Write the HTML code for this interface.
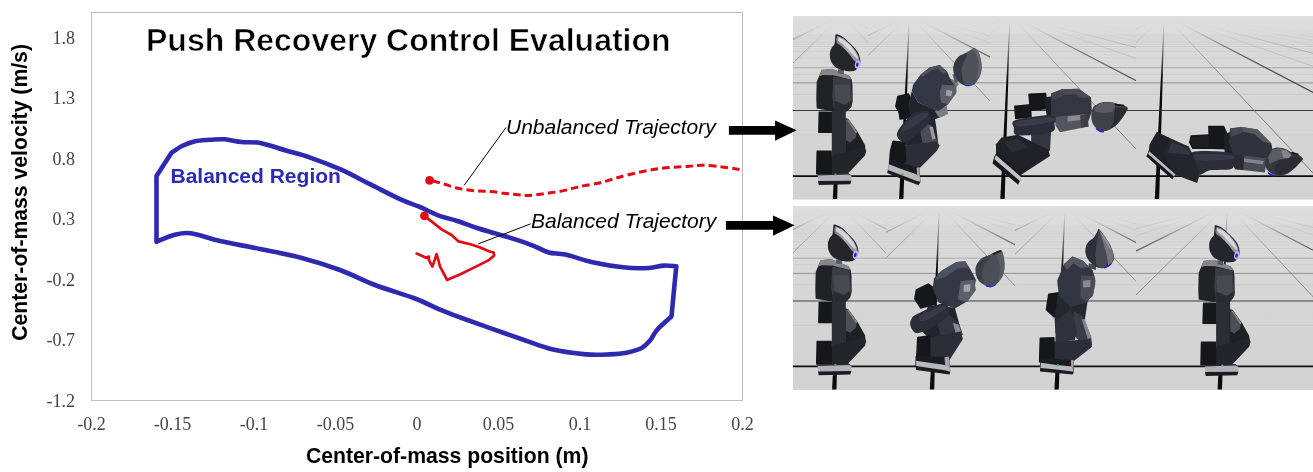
<!DOCTYPE html>
<html><head><meta charset="utf-8"><title>Push Recovery Control Evaluation</title>
<style>
html,body{margin:0;padding:0;background:#fff;}
svg{display:block;}
.sans{font-family:"Liberation Sans",Arial,sans-serif;}
.serif{font-family:"Liberation Serif","Times New Roman",serif;}
</style></head>
<body>
<svg width="1313" height="472" viewBox="0 0 1313 472">
<rect width="1313" height="472" fill="#fff"/>
<!-- plot frame -->
<rect x="91.5" y="12.5" width="651" height="388" fill="none" stroke="#bdbdbd" stroke-width="1"/>
<!-- title -->
<text class="sans" x="146" y="50.5" font-size="32" font-weight="bold" fill="#000" stroke="#fff" stroke-width="0.6">Push Recovery Control Evaluation</text>
<!-- y ticks -->
<g class="serif" font-size="18" fill="#444" text-anchor="end">
<text x="75" y="44.2">1.8</text>
<text x="75" y="104.2">1.3</text>
<text x="75" y="165.2">0.8</text>
<text x="75" y="225.2">0.3</text>
<text x="75" y="286.2">-0.2</text>
<text x="75" y="346.2">-0.7</text>
<text x="75" y="407.2">-1.2</text>
</g>
<g class="serif" font-size="18" fill="#444" text-anchor="middle">
<text x="91.5" y="429.6">-0.2</text>
<text x="172.5" y="429.6">-0.15</text>
<text x="254" y="429.6">-0.1</text>
<text x="335.5" y="429.6">-0.05</text>
<text x="417" y="429.6">0</text>
<text x="498.5" y="429.6">0.05</text>
<text x="580" y="429.6">0.1</text>
<text x="661" y="429.6">0.15</text>
<text x="742.5" y="429.6">0.2</text>
</g>
<text class="sans" x="447.2" y="463" font-size="21.2" font-weight="bold" text-anchor="middle" fill="#000">Center-of-mass position (m)</text>
<text class="sans" transform="translate(26.5,192.4) rotate(-90)" font-size="21.2" font-weight="bold" text-anchor="middle" fill="#000">Center-of-mass velocity (m/s)</text>
<!-- blue region -->
<path id="blue" fill="none" stroke="#2d2ab0" stroke-width="4.6" stroke-linejoin="round" stroke-linecap="round"
 d="M156.5,241.8 L156.5,176 L171.7,152.6 C173.4,151.5 178.2,147.9 182.0,146.0 C185.8,144.1 189.5,142.4 194.2,141.4 C198.9,140.4 204.9,140.2 210.0,139.8 C215.1,139.5 219.4,138.9 224.7,139.3 C230.0,139.7 235.8,141.4 241.7,142.0 C247.6,142.6 253.0,141.6 260.3,143.0 C267.7,144.4 277.6,148.1 285.8,150.5 C294.0,152.9 300.5,154.2 309.5,157.3 C318.5,160.4 329.8,164.7 340.0,169.2 C350.2,173.7 360.5,179.4 370.5,184.4 C380.5,189.4 391.9,195.4 400.0,199.1 C408.1,202.8 412.8,204.0 419.1,206.7 C425.5,209.4 431.8,212.9 438.1,215.3 C444.5,217.7 450.8,218.9 457.2,221.0 C463.6,223.1 469.9,225.6 476.3,227.7 C482.7,229.8 489.0,231.5 495.3,233.4 C501.6,235.3 508.0,237.0 514.4,239.1 C520.8,241.2 527.8,243.6 533.5,245.8 C539.2,248.0 543.4,251.0 548.7,252.5 C554.0,254.0 558.1,253.0 565.4,254.6 C572.7,256.2 582.9,260.1 592.5,262.2 C602.1,264.3 613.7,266.3 623.0,267.3 C632.3,268.3 641.7,268.3 648.5,268.0 C655.3,267.7 659.1,265.9 663.7,265.6 C668.3,265.3 674.2,266.2 676.3,266.3 C675.9,270.4 674.7,282.6 673.9,291.0 C673.1,299.4 671.9,312.2 671.5,316.4 C669.1,318.7 660.5,326.0 657.0,330.0 C653.5,334.0 652.8,337.2 650.2,340.2 C647.7,343.2 645.7,345.9 641.7,348.0 C637.7,350.1 631.8,351.6 626.4,352.7 C621.0,353.8 616.3,354.1 609.5,354.4 C602.7,354.7 595.4,355.2 585.8,354.4 C576.2,353.5 562.1,351.7 551.9,349.3 C541.7,346.9 534.9,343.7 524.7,340.2 C514.5,336.7 501.5,332.1 490.8,328.3 C480.1,324.5 468.8,320.6 460.3,317.5 C451.8,314.4 447.6,312.9 440.0,309.7 C432.4,306.5 425.8,302.6 415.0,298.5 C404.2,294.4 387.5,289.8 375.0,285.0 C362.5,280.2 352.5,274.6 340.0,270.0 C327.5,265.4 313.3,261.0 300.0,257.5 C286.7,254.0 273.3,251.8 260.0,249.0 C246.7,246.2 231.5,243.6 220.0,241.0 C208.5,238.4 198.5,234.3 190.8,233.3 C183.1,232.3 179.6,233.6 173.9,235.0 C168.2,236.4 159.4,240.7 156.5,241.8"/>
<text class="sans" x="170.5" y="183" font-size="21" font-weight="bold" fill="#2d2ab0">Balanced Region</text>
<!-- red trajectories -->
<path fill="none" stroke="#e00b14" stroke-width="3" stroke-dasharray="7.6 4.1" stroke-dashoffset="-3" d="M429.6,180.4 C430.5,180.6 432.6,180.8 435.1,181.5 C437.6,182.2 441.3,183.3 444.7,184.3 C448.1,185.3 452.0,186.8 455.6,187.7 C459.2,188.6 462.7,189.2 466.6,189.8 C470.5,190.4 474.9,190.8 479.0,191.1 C483.1,191.4 487.2,191.2 491.3,191.6 C495.4,191.9 499.5,192.7 503.6,193.2 C507.7,193.7 512.1,194.2 516.0,194.6 C519.9,195.0 523.2,195.5 526.9,195.5 C530.5,195.5 534.0,195.0 537.9,194.6 C541.8,194.2 546.1,193.4 550.2,192.8 C554.3,192.2 558.7,191.7 562.6,190.9 C566.5,190.1 569.9,189.0 573.5,188.1 C577.1,187.2 580.4,186.4 584.5,185.6 C588.6,184.8 594.3,184.1 598.2,183.3 C602.1,182.5 602.7,182.0 607.7,180.6 C612.8,179.2 620.1,176.7 628.5,174.7 C636.9,172.7 648.3,170.2 658.2,168.8 C668.1,167.4 680.4,167.0 687.8,166.4 C695.2,165.8 697.3,165.1 702.7,165.2 C708.1,165.2 715.0,166.1 720.4,166.7 C725.8,167.3 731.4,168.2 735.0,168.8 C738.6,169.4 740.8,169.8 742.0,170.0"/>
<circle cx="429.6" cy="180.4" r="4.4" fill="#e00b14"/>
<path fill="none" stroke="#e00b14" stroke-width="2.7" stroke-linejoin="round" stroke-linecap="round" d="M424.4,215.9 L428.6,219.1 L442.0,229.6 L451.6,235.0 L458.6,241.4 L470.3,244.3 L479.6,247.2 L488.9,251.3 L493.6,252.5 L494.2,255.4 L488.9,260.1 L474.9,267.1 L460.9,274.0 L447.0,279.9 L444.6,275.2 L440.0,266.5 L438.2,259.5 L436.5,254.2 L434.7,260.1 L432.4,266.5 L428.9,260.1 L428.9,256.6 L426.0,257.7 L416.7,253.6"/>
<circle cx="424.4" cy="215.9" r="4.3" fill="#e00b14"/>
<!-- leaders -->
<line x1="506" y1="127.5" x2="464.1" y2="185.4" stroke="#000" stroke-width="1"/>
<line x1="530.6" y1="223.9" x2="478.2" y2="243.9" stroke="#000" stroke-width="1"/>
<text class="sans" x="506" y="134" font-size="21" font-style="italic" fill="#000">Unbalanced Trajectory</text>
<text class="sans" x="531" y="228.3" font-size="21" font-style="italic" fill="#000">Balanced Trajectory</text>
<!-- panels -->
<defs>
<linearGradient id="bgT" x1="0" y1="0" x2="0" y2="1"><stop offset="0" stop-color="#dedede"/><stop offset="0.4" stop-color="#d7d7d7"/><stop offset="1" stop-color="#d2d2d2"/></linearGradient>
<linearGradient id="hl" x1="0" y1="0" x2="1" y2="1"><stop offset="0" stop-color="#70707a"/><stop offset="0.5" stop-color="#b0b0b6"/><stop offset="1" stop-color="#8a8a90"/></linearGradient>
<linearGradient id="fog" x1="0" y1="0" x2="0" y2="1"><stop offset="0" stop-color="#dedede" stop-opacity="1"/><stop offset="0.3" stop-color="#dcdcdc" stop-opacity="0.8"/><stop offset="0.6" stop-color="#dbdbdb" stop-opacity="0.35"/><stop offset="1" stop-color="#d8d8d8" stop-opacity="0"/></linearGradient>
<linearGradient id="axfadeT" gradientUnits="userSpaceOnUse" x1="0" y1="20" x2="0" y2="80"><stop offset="0" stop-color="#0a0a0a" stop-opacity="0"/><stop offset="1" stop-color="#0a0a0a" stop-opacity="1"/></linearGradient>
<linearGradient id="axfadeB" gradientUnits="userSpaceOnUse" x1="0" y1="210" x2="0" y2="270"><stop offset="0" stop-color="#0a0a0a" stop-opacity="0"/><stop offset="1" stop-color="#0a0a0a" stop-opacity="1"/></linearGradient>
<linearGradient id="zmgT" gradientUnits="userSpaceOnUse" x1="0" y1="16" x2="0" y2="150"><stop offset="0" stop-color="#000"/><stop offset="0.12" stop-color="#333"/><stop offset="0.3" stop-color="#999"/><stop offset="0.6" stop-color="#e0e0e0"/><stop offset="1" stop-color="#fff"/></linearGradient>
<linearGradient id="zmgB" gradientUnits="userSpaceOnUse" x1="0" y1="206" x2="0" y2="340"><stop offset="0" stop-color="#000"/><stop offset="0.12" stop-color="#333"/><stop offset="0.3" stop-color="#999"/><stop offset="0.6" stop-color="#e0e0e0"/><stop offset="1" stop-color="#fff"/></linearGradient>
<mask id="zmT" maskUnits="userSpaceOnUse" x="793" y="16" width="520" height="190"><rect x="793" y="16" width="520" height="190" fill="url(#zmgT)"/></mask>
<mask id="zmB" maskUnits="userSpaceOnUse" x="793" y="206" width="520" height="190"><rect x="793" y="206" width="520" height="190" fill="url(#zmgB)"/></mask>
<clipPath id="cT"><rect x="793" y="16" width="520" height="183.8"/></clipPath>
<clipPath id="cB"><rect x="793" y="206" width="520" height="183.9"/></clipPath>
<g id="r1legs">
<polygon points="831.1,108.5 846.0,109.5 850.2,104.2 850.6,100.0 831.1,100.0" fill="#2a2c35" />
<polygon points="819.3,112.3 832.2,112.3 832.2,132.2 818.8,132.2" fill="#16171b" stroke="#16171b" stroke-width="1.5" stroke-linejoin="round"/>
<polygon points="831.8,106.4 845.8,106.4 845.8,155.5 831.8,155.5" fill="#2c2e36" />
<polygon points="845.3,118.0 848.5,119.1 857.6,131.8 865.0,144.9 865.5,150.8 856.6,153.0 845.3,155.5" fill="#1f2025" />
<polygon points="846.0,119.5 848.5,120.1 856.6,132.2 855.7,137.7 849.8,142.4 846.0,140.3" fill="#4c4e58" />
<polygon points="847.0,119.5 848.5,119.5 857.2,131.8 856.1,133.5" fill="#85858d" />
<polygon points="831.1,155.5 846.0,151.9 864.0,147.0 866.3,150.8 865.0,155.5 851.3,169.9 847.0,174.2 830.7,174.6" fill="#24252b" />
<polygon points="817.2,151.3 831.1,151.3 831.1,173.7 816.7,173.7" fill="#16171b" stroke="#16171b" stroke-width="1.5" stroke-linejoin="round"/>
</g>
<g id="r1foot">
<polygon points="817.6,174.2 848.5,172.9 851.5,175.8 851.5,176.7 818.0,176.7" fill="#2a2b31" />
<polygon points="817.8,175.6 848.5,174.6 851.5,175.8 851.5,181.1 818.0,181.6" fill="#b2b2ba" />
<polygon points="818.0,181.1 851.5,180.7 850.2,184.3 818.8,185.0" fill="#1b1c20" />
<ellipse cx="835.4" cy="174.6" rx="1.2" ry="1.0" fill="#30c050" transform="rotate(0 835.4 174.6)"/>
</g>
<g id="r1torso">
<polygon points="821.6,70.0 832.2,69.0 838.6,71.5 849.4,76.0 851.7,79.6 852.5,85.9 852.7,100.7 851.5,107.1 851.1,104.2 846.0,109.5 831.1,111.0 816.7,108.5 816.3,100.0 816.3,97.6 816.7,81.7 819.5,75.3" fill="#212227" />
<polygon points="821.6,69.8 832.4,68.8 838.6,71.3 849.6,76.0 851.5,79.6 848.1,78.9 838.6,76.6 833.3,75.3 822.9,74.9 819.3,76.2" fill="#85868c" />
<polygon points="833.3,76.4 850.6,79.6 852.3,100.7 851.1,107.1 847.2,111.3 834.3,112.4 832.2,96.5" fill="#3b3c44" />
<polygon points="834.3,84.9 849.8,84.2 851.1,100.7 844.7,105.0 835.4,100.7" fill="#484951" />
<polygon points="834.3,100.7 844.7,105.0 851.1,100.7 851.1,107.1 847.2,111.3 834.3,112.4" fill="#2a2b31" />
</g>
<g id="r1head">
<polygon points="838.1,69.0 843.8,70.0 843.8,74.3 838.1,73.2" fill="#5a5b62" />
<path d="M836.3,34.3 C837.7,34.2 841.0,35.7 843.3,37.2 C845.6,38.8 848.1,41.4 850.3,43.6 C852.5,45.9 855.2,48.5 856.7,50.6 C858.3,52.8 859.0,54.5 859.6,56.5 C860.2,58.4 860.4,60.6 860.3,62.3 C860.2,63.9 859.9,65.0 859.0,66.4 C858.2,67.7 856.6,69.7 855.0,70.5 C853.3,71.3 851.1,71.2 849.1,71.2 C847.2,71.2 845.6,71.2 843.3,70.5 C841.0,69.8 837.2,68.6 835.2,67.0 C833.1,65.3 831.6,62.9 830.7,60.5 C829.8,58.2 829.8,55.1 829.9,53.0 C830.1,50.8 830.9,49.2 831.7,47.7 C832.4,46.3 833.9,45.9 834.5,44.2 C835.0,42.6 834.8,39.5 835.2,37.8 C835.5,36.2 835.0,34.4 836.3,34.3Z" fill="#25262c" />
<polygon points="837.2,35.7 843.3,38.3 850.1,44.3 855.9,51.3 858.9,57.1 859.6,61.4 857.5,63.0 854.0,60.5 850.1,55.1 845.4,49.7 841.0,45.7 836.9,43.2 835.9,39.6" fill="url(#hl)" />
<polygon points="837.7,36.7 843.3,39.2 849.6,45.0 855.0,51.8 857.8,56.9 857.5,59.5 853.6,55.5 848.7,49.7 843.5,44.6 838.2,40.9" fill="#e6e6e8" opacity="0.8"/>
<ellipse cx="857.5" cy="64.4" rx="2.6" ry="4.3" fill="#b8b8ff" transform="rotate(12 857.5 64.4)"/>
<ellipse cx="857.3" cy="64.6" rx="1.3" ry="2.2" fill="#2a2ab0" transform="rotate(12 857.3 64.6)"/>
</g>
</defs>
<g clip-path="url(#cT)">
<rect x="793" y="16" width="520" height="183.8" fill="url(#bgT)"/>
<clipPath id="ct0"><rect x="793.0" y="16.0" width="75.0" height="184.0"/></clipPath>
<g clip-path="url(#ct0)">
<line x1="793.0" y1="134.89" x2="868.0" y2="134.89" stroke="#c6c6c6" stroke-width="0.7"/>
<line x1="793.0" y1="110.50" x2="868.0" y2="110.50" stroke="#3c3c3c" stroke-width="1.2"/>
<line x1="793.0" y1="94.36" x2="868.0" y2="94.36" stroke="#c6c6c6" stroke-width="0.7"/>
<line x1="793.0" y1="82.88" x2="868.0" y2="82.88" stroke="#909090" stroke-width="1.0"/>
<line x1="793.0" y1="74.31" x2="868.0" y2="74.31" stroke="#c6c6c6" stroke-width="0.7"/>
<line x1="793.0" y1="67.66" x2="868.0" y2="67.66" stroke="#a8a8a8" stroke-width="0.9"/>
<line x1="793.0" y1="62.35" x2="868.0" y2="62.35" stroke="#cecece" stroke-width="0.6"/>
<line x1="793.0" y1="58.01" x2="868.0" y2="58.01" stroke="#c9c9c9" stroke-width="0.7"/>
<line x1="793.0" y1="54.40" x2="868.0" y2="54.40" stroke="#cecece" stroke-width="0.6"/>
<line x1="793.0" y1="51.35" x2="868.0" y2="51.35" stroke="#c9c9c9" stroke-width="0.7"/>
<line x1="793.0" y1="48.74" x2="868.0" y2="48.74" stroke="#cecece" stroke-width="0.6"/>
<line x1="793.0" y1="46.48" x2="868.0" y2="46.48" stroke="#c9c9c9" stroke-width="0.7"/>
<line x1="793.0" y1="44.50" x2="868.0" y2="44.50" stroke="#cecece" stroke-width="0.6"/>
<line x1="793.0" y1="42.75" x2="868.0" y2="42.75" stroke="#c9c9c9" stroke-width="0.7"/>
<line x1="793.0" y1="41.20" x2="868.0" y2="41.20" stroke="#d2d2d2" stroke-width="0.6"/>
<line x1="793.0" y1="39.82" x2="868.0" y2="39.82" stroke="#d2d2d2" stroke-width="0.6"/>
<line x1="793.0" y1="38.57" x2="868.0" y2="38.57" stroke="#d2d2d2" stroke-width="0.6"/>
<line x1="793.0" y1="37.45" x2="868.0" y2="37.45" stroke="#d2d2d2" stroke-width="0.6"/>
<line x1="793.0" y1="36.42" x2="868.0" y2="36.42" stroke="#d2d2d2" stroke-width="0.6"/>
<line x1="793.0" y1="35.49" x2="868.0" y2="35.49" stroke="#d2d2d2" stroke-width="0.6"/>
<line x1="793.0" y1="34.63" x2="868.0" y2="34.63" stroke="#d2d2d2" stroke-width="0.6"/>
<g mask="url(#zmT)">
<line x1="842.0" y1="15.0" x2="-843.4" y2="205.0" stroke="#bcbcbc" stroke-width="0.7"/>
<line x1="842.0" y1="15.0" x2="-656.9" y2="205.0" stroke="#a8a8a8" stroke-width="0.8"/>
<line x1="842.0" y1="15.0" x2="-470.4" y2="205.0" stroke="#bcbcbc" stroke-width="0.7"/>
<line x1="842.0" y1="15.0" x2="-284.0" y2="205.0" stroke="#a8a8a8" stroke-width="0.8"/>
<line x1="842.0" y1="15.0" x2="-97.5" y2="205.0" stroke="#bcbcbc" stroke-width="0.7"/>
<line x1="842.0" y1="15.0" x2="88.9" y2="205.0" stroke="#808080" stroke-width="0.9"/>
<line x1="842.0" y1="15.0" x2="275.4" y2="205.0" stroke="#a8a8a8" stroke-width="0.8"/>
<line x1="842.0" y1="15.0" x2="461.9" y2="205.0" stroke="#1c1c1c" stroke-width="1.2"/>
<line x1="842.0" y1="15.0" x2="648.3" y2="205.0" stroke="#6e6e6e" stroke-width="0.9"/>
<line x1="842.0" y1="15.0" x2="1021.2" y2="205.0" stroke="#6e6e6e" stroke-width="0.9"/>
<line x1="842.0" y1="15.0" x2="1207.7" y2="205.0" stroke="#1c1c1c" stroke-width="1.2"/>
<line x1="842.0" y1="15.0" x2="1394.2" y2="205.0" stroke="#a8a8a8" stroke-width="0.8"/>
<line x1="842.0" y1="15.0" x2="1580.6" y2="205.0" stroke="#808080" stroke-width="0.9"/>
<line x1="842.0" y1="15.0" x2="1767.1" y2="205.0" stroke="#bcbcbc" stroke-width="0.7"/>
<line x1="842.0" y1="15.0" x2="1953.5" y2="205.0" stroke="#a8a8a8" stroke-width="0.8"/>
<line x1="842.0" y1="15.0" x2="2140.0" y2="205.0" stroke="#bcbcbc" stroke-width="0.7"/>
<line x1="842.0" y1="15.0" x2="2326.4" y2="205.0" stroke="#a8a8a8" stroke-width="0.8"/>
<line x1="842.0" y1="15.0" x2="2512.9" y2="205.0" stroke="#bcbcbc" stroke-width="0.7"/>
</g>
</g>
<clipPath id="ct1"><rect x="868.0" y="16.0" width="122.0" height="184.0"/></clipPath>
<g clip-path="url(#ct1)">
<line x1="868.0" y1="134.89" x2="990.0" y2="134.89" stroke="#c6c6c6" stroke-width="0.7"/>
<line x1="868.0" y1="110.50" x2="990.0" y2="110.50" stroke="#3c3c3c" stroke-width="1.2"/>
<line x1="868.0" y1="94.36" x2="990.0" y2="94.36" stroke="#c6c6c6" stroke-width="0.7"/>
<line x1="868.0" y1="82.88" x2="990.0" y2="82.88" stroke="#909090" stroke-width="1.0"/>
<line x1="868.0" y1="74.31" x2="990.0" y2="74.31" stroke="#c6c6c6" stroke-width="0.7"/>
<line x1="868.0" y1="67.66" x2="990.0" y2="67.66" stroke="#a8a8a8" stroke-width="0.9"/>
<line x1="868.0" y1="62.35" x2="990.0" y2="62.35" stroke="#cecece" stroke-width="0.6"/>
<line x1="868.0" y1="58.01" x2="990.0" y2="58.01" stroke="#c9c9c9" stroke-width="0.7"/>
<line x1="868.0" y1="54.40" x2="990.0" y2="54.40" stroke="#cecece" stroke-width="0.6"/>
<line x1="868.0" y1="51.35" x2="990.0" y2="51.35" stroke="#c9c9c9" stroke-width="0.7"/>
<line x1="868.0" y1="48.74" x2="990.0" y2="48.74" stroke="#cecece" stroke-width="0.6"/>
<line x1="868.0" y1="46.48" x2="990.0" y2="46.48" stroke="#c9c9c9" stroke-width="0.7"/>
<line x1="868.0" y1="44.50" x2="990.0" y2="44.50" stroke="#cecece" stroke-width="0.6"/>
<line x1="868.0" y1="42.75" x2="990.0" y2="42.75" stroke="#c9c9c9" stroke-width="0.7"/>
<line x1="868.0" y1="41.20" x2="990.0" y2="41.20" stroke="#d2d2d2" stroke-width="0.6"/>
<line x1="868.0" y1="39.82" x2="990.0" y2="39.82" stroke="#d2d2d2" stroke-width="0.6"/>
<line x1="868.0" y1="38.57" x2="990.0" y2="38.57" stroke="#d2d2d2" stroke-width="0.6"/>
<line x1="868.0" y1="37.45" x2="990.0" y2="37.45" stroke="#d2d2d2" stroke-width="0.6"/>
<line x1="868.0" y1="36.42" x2="990.0" y2="36.42" stroke="#d2d2d2" stroke-width="0.6"/>
<line x1="868.0" y1="35.49" x2="990.0" y2="35.49" stroke="#d2d2d2" stroke-width="0.6"/>
<line x1="868.0" y1="34.63" x2="990.0" y2="34.63" stroke="#d2d2d2" stroke-width="0.6"/>
<g mask="url(#zmT)">
<line x1="909.5" y1="15.0" x2="-777.2" y2="205.0" stroke="#bcbcbc" stroke-width="0.7"/>
<line x1="909.5" y1="15.0" x2="-590.7" y2="205.0" stroke="#a8a8a8" stroke-width="0.8"/>
<line x1="909.5" y1="15.0" x2="-404.3" y2="205.0" stroke="#bcbcbc" stroke-width="0.7"/>
<line x1="909.5" y1="15.0" x2="-217.8" y2="205.0" stroke="#a8a8a8" stroke-width="0.8"/>
<line x1="909.5" y1="15.0" x2="-31.4" y2="205.0" stroke="#bcbcbc" stroke-width="0.7"/>
<line x1="909.5" y1="15.0" x2="155.1" y2="205.0" stroke="#808080" stroke-width="0.9"/>
<line x1="909.5" y1="15.0" x2="341.6" y2="205.0" stroke="#a8a8a8" stroke-width="0.8"/>
<line x1="909.5" y1="15.0" x2="528.0" y2="205.0" stroke="#1c1c1c" stroke-width="1.2"/>
<line x1="909.5" y1="15.0" x2="714.5" y2="205.0" stroke="#6e6e6e" stroke-width="0.9"/>
<line x1="909.5" y1="15.0" x2="1087.4" y2="205.0" stroke="#6e6e6e" stroke-width="0.9"/>
<line x1="909.5" y1="15.0" x2="1273.8" y2="205.0" stroke="#1c1c1c" stroke-width="1.2"/>
<line x1="909.5" y1="15.0" x2="1460.3" y2="205.0" stroke="#a8a8a8" stroke-width="0.8"/>
<line x1="909.5" y1="15.0" x2="1646.8" y2="205.0" stroke="#808080" stroke-width="0.9"/>
<line x1="909.5" y1="15.0" x2="1833.2" y2="205.0" stroke="#bcbcbc" stroke-width="0.7"/>
<line x1="909.5" y1="15.0" x2="2019.7" y2="205.0" stroke="#a8a8a8" stroke-width="0.8"/>
<line x1="909.5" y1="15.0" x2="2206.1" y2="205.0" stroke="#bcbcbc" stroke-width="0.7"/>
<line x1="909.5" y1="15.0" x2="2392.6" y2="205.0" stroke="#a8a8a8" stroke-width="0.8"/>
<line x1="909.5" y1="15.0" x2="2579.1" y2="205.0" stroke="#bcbcbc" stroke-width="0.7"/>
</g>
</g>
<clipPath id="ct2"><rect x="990.0" y="16.0" width="146.0" height="184.0"/></clipPath>
<g clip-path="url(#ct2)">
<line x1="990.0" y1="134.89" x2="1136.0" y2="134.89" stroke="#c6c6c6" stroke-width="0.7"/>
<line x1="990.0" y1="110.50" x2="1136.0" y2="110.50" stroke="#3c3c3c" stroke-width="1.2"/>
<line x1="990.0" y1="94.36" x2="1136.0" y2="94.36" stroke="#c6c6c6" stroke-width="0.7"/>
<line x1="990.0" y1="82.88" x2="1136.0" y2="82.88" stroke="#909090" stroke-width="1.0"/>
<line x1="990.0" y1="74.31" x2="1136.0" y2="74.31" stroke="#c6c6c6" stroke-width="0.7"/>
<line x1="990.0" y1="67.66" x2="1136.0" y2="67.66" stroke="#a8a8a8" stroke-width="0.9"/>
<line x1="990.0" y1="62.35" x2="1136.0" y2="62.35" stroke="#cecece" stroke-width="0.6"/>
<line x1="990.0" y1="58.01" x2="1136.0" y2="58.01" stroke="#c9c9c9" stroke-width="0.7"/>
<line x1="990.0" y1="54.40" x2="1136.0" y2="54.40" stroke="#cecece" stroke-width="0.6"/>
<line x1="990.0" y1="51.35" x2="1136.0" y2="51.35" stroke="#c9c9c9" stroke-width="0.7"/>
<line x1="990.0" y1="48.74" x2="1136.0" y2="48.74" stroke="#cecece" stroke-width="0.6"/>
<line x1="990.0" y1="46.48" x2="1136.0" y2="46.48" stroke="#c9c9c9" stroke-width="0.7"/>
<line x1="990.0" y1="44.50" x2="1136.0" y2="44.50" stroke="#cecece" stroke-width="0.6"/>
<line x1="990.0" y1="42.75" x2="1136.0" y2="42.75" stroke="#c9c9c9" stroke-width="0.7"/>
<line x1="990.0" y1="41.20" x2="1136.0" y2="41.20" stroke="#d2d2d2" stroke-width="0.6"/>
<line x1="990.0" y1="39.82" x2="1136.0" y2="39.82" stroke="#d2d2d2" stroke-width="0.6"/>
<line x1="990.0" y1="38.57" x2="1136.0" y2="38.57" stroke="#d2d2d2" stroke-width="0.6"/>
<line x1="990.0" y1="37.45" x2="1136.0" y2="37.45" stroke="#d2d2d2" stroke-width="0.6"/>
<line x1="990.0" y1="36.42" x2="1136.0" y2="36.42" stroke="#d2d2d2" stroke-width="0.6"/>
<line x1="990.0" y1="35.49" x2="1136.0" y2="35.49" stroke="#d2d2d2" stroke-width="0.6"/>
<line x1="990.0" y1="34.63" x2="1136.0" y2="34.63" stroke="#d2d2d2" stroke-width="0.6"/>
<g mask="url(#zmT)">
<line x1="1010.0" y1="15.0" x2="-675.9" y2="205.0" stroke="#bcbcbc" stroke-width="0.7"/>
<line x1="1010.0" y1="15.0" x2="-489.4" y2="205.0" stroke="#a8a8a8" stroke-width="0.8"/>
<line x1="1010.0" y1="15.0" x2="-303.0" y2="205.0" stroke="#bcbcbc" stroke-width="0.7"/>
<line x1="1010.0" y1="15.0" x2="-116.5" y2="205.0" stroke="#a8a8a8" stroke-width="0.8"/>
<line x1="1010.0" y1="15.0" x2="70.0" y2="205.0" stroke="#bcbcbc" stroke-width="0.7"/>
<line x1="1010.0" y1="15.0" x2="256.4" y2="205.0" stroke="#808080" stroke-width="0.9"/>
<line x1="1010.0" y1="15.0" x2="442.9" y2="205.0" stroke="#a8a8a8" stroke-width="0.8"/>
<line x1="1010.0" y1="15.0" x2="629.3" y2="205.0" stroke="#1c1c1c" stroke-width="1.2"/>
<line x1="1010.0" y1="15.0" x2="815.8" y2="205.0" stroke="#6e6e6e" stroke-width="0.9"/>
<line x1="1010.0" y1="15.0" x2="1188.7" y2="205.0" stroke="#6e6e6e" stroke-width="0.9"/>
<line x1="1010.0" y1="15.0" x2="1375.2" y2="205.0" stroke="#1c1c1c" stroke-width="1.2"/>
<line x1="1010.0" y1="15.0" x2="1561.6" y2="205.0" stroke="#a8a8a8" stroke-width="0.8"/>
<line x1="1010.0" y1="15.0" x2="1748.1" y2="205.0" stroke="#808080" stroke-width="0.9"/>
<line x1="1010.0" y1="15.0" x2="1934.6" y2="205.0" stroke="#bcbcbc" stroke-width="0.7"/>
<line x1="1010.0" y1="15.0" x2="2121.0" y2="205.0" stroke="#a8a8a8" stroke-width="0.8"/>
<line x1="1010.0" y1="15.0" x2="2307.5" y2="205.0" stroke="#bcbcbc" stroke-width="0.7"/>
<line x1="1010.0" y1="15.0" x2="2493.9" y2="205.0" stroke="#a8a8a8" stroke-width="0.8"/>
<line x1="1010.0" y1="15.0" x2="2680.4" y2="205.0" stroke="#bcbcbc" stroke-width="0.7"/>
</g>
</g>
<clipPath id="ct3"><rect x="1136.0" y="16.0" width="177.0" height="184.0"/></clipPath>
<g clip-path="url(#ct3)">
<line x1="1136.0" y1="134.89" x2="1313.0" y2="134.89" stroke="#c6c6c6" stroke-width="0.7"/>
<line x1="1136.0" y1="110.50" x2="1313.0" y2="110.50" stroke="#3c3c3c" stroke-width="1.2"/>
<line x1="1136.0" y1="94.36" x2="1313.0" y2="94.36" stroke="#c6c6c6" stroke-width="0.7"/>
<line x1="1136.0" y1="82.88" x2="1313.0" y2="82.88" stroke="#909090" stroke-width="1.0"/>
<line x1="1136.0" y1="74.31" x2="1313.0" y2="74.31" stroke="#c6c6c6" stroke-width="0.7"/>
<line x1="1136.0" y1="67.66" x2="1313.0" y2="67.66" stroke="#a8a8a8" stroke-width="0.9"/>
<line x1="1136.0" y1="62.35" x2="1313.0" y2="62.35" stroke="#cecece" stroke-width="0.6"/>
<line x1="1136.0" y1="58.01" x2="1313.0" y2="58.01" stroke="#c9c9c9" stroke-width="0.7"/>
<line x1="1136.0" y1="54.40" x2="1313.0" y2="54.40" stroke="#cecece" stroke-width="0.6"/>
<line x1="1136.0" y1="51.35" x2="1313.0" y2="51.35" stroke="#c9c9c9" stroke-width="0.7"/>
<line x1="1136.0" y1="48.74" x2="1313.0" y2="48.74" stroke="#cecece" stroke-width="0.6"/>
<line x1="1136.0" y1="46.48" x2="1313.0" y2="46.48" stroke="#c9c9c9" stroke-width="0.7"/>
<line x1="1136.0" y1="44.50" x2="1313.0" y2="44.50" stroke="#cecece" stroke-width="0.6"/>
<line x1="1136.0" y1="42.75" x2="1313.0" y2="42.75" stroke="#c9c9c9" stroke-width="0.7"/>
<line x1="1136.0" y1="41.20" x2="1313.0" y2="41.20" stroke="#d2d2d2" stroke-width="0.6"/>
<line x1="1136.0" y1="39.82" x2="1313.0" y2="39.82" stroke="#d2d2d2" stroke-width="0.6"/>
<line x1="1136.0" y1="38.57" x2="1313.0" y2="38.57" stroke="#d2d2d2" stroke-width="0.6"/>
<line x1="1136.0" y1="37.45" x2="1313.0" y2="37.45" stroke="#d2d2d2" stroke-width="0.6"/>
<line x1="1136.0" y1="36.42" x2="1313.0" y2="36.42" stroke="#d2d2d2" stroke-width="0.6"/>
<line x1="1136.0" y1="35.49" x2="1313.0" y2="35.49" stroke="#d2d2d2" stroke-width="0.6"/>
<line x1="1136.0" y1="34.63" x2="1313.0" y2="34.63" stroke="#d2d2d2" stroke-width="0.6"/>
<g mask="url(#zmT)">
<line x1="1164.3" y1="15.0" x2="-521.4" y2="205.0" stroke="#bcbcbc" stroke-width="0.7"/>
<line x1="1164.3" y1="15.0" x2="-334.9" y2="205.0" stroke="#a8a8a8" stroke-width="0.8"/>
<line x1="1164.3" y1="15.0" x2="-148.5" y2="205.0" stroke="#bcbcbc" stroke-width="0.7"/>
<line x1="1164.3" y1="15.0" x2="38.0" y2="205.0" stroke="#a8a8a8" stroke-width="0.8"/>
<line x1="1164.3" y1="15.0" x2="224.5" y2="205.0" stroke="#bcbcbc" stroke-width="0.7"/>
<line x1="1164.3" y1="15.0" x2="410.9" y2="205.0" stroke="#808080" stroke-width="0.9"/>
<line x1="1164.3" y1="15.0" x2="597.4" y2="205.0" stroke="#a8a8a8" stroke-width="0.8"/>
<line x1="1164.3" y1="15.0" x2="783.8" y2="205.0" stroke="#1c1c1c" stroke-width="1.2"/>
<line x1="1164.3" y1="15.0" x2="970.3" y2="205.0" stroke="#6e6e6e" stroke-width="0.9"/>
<line x1="1164.3" y1="15.0" x2="1343.2" y2="205.0" stroke="#6e6e6e" stroke-width="0.9"/>
<line x1="1164.3" y1="15.0" x2="1529.7" y2="205.0" stroke="#1c1c1c" stroke-width="1.2"/>
<line x1="1164.3" y1="15.0" x2="1716.1" y2="205.0" stroke="#a8a8a8" stroke-width="0.8"/>
<line x1="1164.3" y1="15.0" x2="1902.6" y2="205.0" stroke="#808080" stroke-width="0.9"/>
<line x1="1164.3" y1="15.0" x2="2089.1" y2="205.0" stroke="#bcbcbc" stroke-width="0.7"/>
<line x1="1164.3" y1="15.0" x2="2275.5" y2="205.0" stroke="#a8a8a8" stroke-width="0.8"/>
<line x1="1164.3" y1="15.0" x2="2462.0" y2="205.0" stroke="#bcbcbc" stroke-width="0.7"/>
<line x1="1164.3" y1="15.0" x2="2648.4" y2="205.0" stroke="#a8a8a8" stroke-width="0.8"/>
<line x1="1164.3" y1="15.0" x2="2834.9" y2="205.0" stroke="#bcbcbc" stroke-width="0.7"/>
</g>
</g>
<rect x="793" y="16.0" width="520" height="30" fill="url(#fog)"/>
<line x1="793" y1="176.1" x2="1313" y2="176.1" stroke="#0d0d0d" stroke-width="1.7"/>
<g clip-path="url(#ct0)"><polygon points="837.0,115.0 839.4,115.0 837.2,199.0 832.8,199.0" fill="url(#axfadeT)"/></g>
<g clip-path="url(#ct1)"><polygon points="908.8,23.0 909.5,23.0 903.4,199.0 899.0,199.0" fill="url(#axfadeT)"/></g>
<g clip-path="url(#ct2)"><polygon points="1009.3,23.0 1010.0,23.0 1004.7,199.0 1000.3,199.0" fill="url(#axfadeT)"/></g>
<g clip-path="url(#ct3)"><polygon points="1163.6,23.0 1164.3,23.0 1159.2,199.0 1154.8,199.0" fill="url(#axfadeT)"/></g>
<use href="#r1legs"/>
<use href="#r1foot"/>
<use href="#r1torso"/>
<use href="#r1head"/>
<g id="r2">
<polygon points="897.8,96.6 908.5,94.1 913.1,103.7 911.8,114.4 901.6,117.0 895.8,106.3" fill="#16171b" stroke="#16171b" stroke-width="1.5" stroke-linejoin="round"/>
<polygon points="898.0,102.1 913.9,101.1 915.0,116.9 900.1,119.1" fill="#16171b" stroke="#16171b" stroke-width="1.5" stroke-linejoin="round"/>
<polygon points="911.8,112.7 933.0,108.5 936.1,125.4 938.3,143.4 931.9,146.2 920.3,144.5 905.4,145.6 903.3,131.8" fill="#25262d" />
<polygon points="911.8,91.0 918.1,102.5 938.5,110.9 946.6,106.3 944.8,115.2 934.7,119.5 915.6,117.7 910.0,114.4 908.5,103.7" fill="#23252d" />
<polygon points="934.7,110.9 946.6,106.3 948.1,113.9 939.0,117.7" fill="#7a7b83" />
<polygon points="929.6,67.6 939.8,65.1 947.4,72.0 949.9,78.3 956.3,84.7 956.3,92.3 947.4,105.0 938.5,110.9 928.3,107.5 918.1,102.5 911.8,91.0 913.1,84.7 920.7,74.5" fill="#343846" />
<polygon points="929.6,67.6 939.8,65.1 946.6,72.0 943.6,74.5 938.0,68.6 930.9,70.7 922.0,77.0 920.7,74.5" fill="#4e5261" />
<polygon points="942.3,84.7 955.8,85.4 956.3,93.1 948.1,104.2 941.0,102.5 939.8,91.0" fill="#5d5e67" />
<polygon points="946.6,89.8 952.5,91.0 951.2,96.6 945.6,95.6" fill="#a0a0a8" />
<polygon points="949.9,78.3 956.3,80.9 958.8,84.7 955.8,87.2" fill="#77787f" />
<polygon points="925.6,123.3 931.9,125.4 936.1,138.1 938.3,143.4 931.9,145.6 922.4,142.4 920.3,131.8" fill="#4a4c56" />
<polygon points="929.2,126.5 933.0,127.1 935.5,138.6 932.5,139.8" fill="#9a9aa2" />
<polygon points="905.0,145.6 936.1,141.3 939.7,145.6 937.2,150.4 920.3,167.4 905.4,170.3 902.2,161.4" fill="#2c2e37" />
<polygon points="893.1,141.3 904.6,142.4 905.4,161.9 889.5,164.0 890.6,150.8" fill="#16171b" stroke="#16171b" stroke-width="1.5" stroke-linejoin="round"/>
<polygon points="890.1,159.5 916.5,167.5 919.4,166.9 920.5,181.8 918.8,185.2 901.2,178.8 887.2,172.9 889.0,164.3" fill="#1b1c21" />
<polygon points="889.0,164.3 901.2,169.1 915.0,173.8 919.8,176.5 920.4,181.8 916.0,180.7 901.2,174.9 887.9,170.1" fill="#b8b8be" />
<polygon points="916.7,167.7 919.3,167.2 920.0,177.8 917.1,176.0" fill="#a4a4aa" />
<ellipse cx="902.5" cy="174.6" rx="1.2" ry="1.0" fill="#30c050" transform="rotate(0 902.5 174.6)"/>
<path d="M911.8,114.8 C916.0,112.0 922.4,110.2 925.6,110.6 C928.7,110.9 930.3,114.8 930.8,116.9 C931.4,119.1 932.3,119.4 928.7,123.3 C925.2,127.2 914.3,137.3 909.7,140.3 C905.1,143.3 903.3,142.2 901.2,141.3 C899.1,140.4 897.1,137.3 896.9,135.0 C896.8,132.7 897.7,130.9 900.1,127.5 C902.6,124.2 907.5,117.7 911.8,114.8Z" fill="#2b2e3a" />
<path d="M913.9,116.5 C917.5,114.2 922.6,112.8 924.9,112.7 C927.2,112.6 929.9,113.4 927.7,115.9 C925.5,118.4 916.0,124.9 911.8,127.5 C907.5,130.2 903.7,132.0 902.2,131.8 C900.8,131.6 901.4,129.0 903.3,126.5 C905.2,123.9 910.3,118.8 913.9,116.5Z" fill="#363a47" />
<polygon points="952.5,74.5 956.3,73.2 959.3,80.9 955.0,82.9" fill="#55565e" />
<path d="M974.7,47.9 C975.9,48.5 977.7,50.6 978.8,52.8 C979.9,55.0 980.6,58.3 981.1,61.0 C981.6,63.7 981.9,66.6 981.7,69.1 C981.5,71.7 980.9,73.9 980.0,76.1 C979.0,78.4 977.4,81.0 975.9,82.5 C974.3,84.1 972.5,85.0 970.6,85.5 C968.8,85.9 966.8,86.0 964.8,85.5 C962.9,84.9 960.7,83.7 959.0,82.0 C957.2,80.2 955.3,77.3 954.3,75.0 C953.4,72.6 953.1,70.2 953.2,68.0 C953.3,65.7 953.9,63.5 954.9,61.6 C955.9,59.6 957.1,57.8 959.0,56.3 C960.8,54.9 963.8,54.0 966.0,52.8 C968.1,51.7 970.3,50.1 971.8,49.3 C973.3,48.5 973.6,47.3 974.7,47.9Z" fill="#50525a" />
<polygon points="966.0,53.1 959.0,56.6 955.0,61.7 953.4,68.0 954.6,75.0 959.0,81.7 964.6,85.0 962.5,78.5 961.3,70.3 963.6,62.1 967.1,56.3" fill="#343744" />
<polygon points="974.7,48.2 978.8,53.1 981.0,61.0 981.5,69.1 979.8,75.9 976.2,82.0 977.9,75.0 978.8,68.0 978.1,59.8 975.5,52.8 972.7,49.8" fill="#63646b" />
<polygon points="964.6,85.2 970.6,85.2 975.5,82.7 974.7,84.1 970.1,86.2 965.4,86.2" fill="#2222cc" />
</g>
<g id="r3">
<polygon points="1029.0,94.2 1045.6,93.4 1046.9,108.5 1030.4,110.2" fill="#16171b" stroke="#16171b" stroke-width="1.5" stroke-linejoin="round"/>
<polygon points="1014.7,106.3 1030.4,104.7 1031.0,116.8 1015.8,118.4" fill="#16171b" stroke="#16171b" stroke-width="1.5" stroke-linejoin="round"/>
<polygon points="1044.2,97.5 1053.8,96.1 1057.1,119.5 1046.9,117.3" fill="#1f2026" />
<polygon points="1051.1,93.4 1062.1,89.3 1078.6,88.7 1091.0,97.5 1091.8,111.3 1088.2,121.7 1059.3,124.5 1051.1,120.9" fill="#343742" />
<polygon points="1062.1,89.3 1078.6,88.7 1091.0,97.5 1081.3,98.1 1075.8,94.2 1063.4,94.8" fill="#4a4d58" />
<polygon points="1051.1,93.4 1062.1,89.3 1063.4,96.1 1052.4,100.3" fill="#42444f" />
<polygon points="1056.0,116.8 1086.8,114.0 1088.5,126.4 1059.9,132.2 1055.2,125.1" fill="#54555e" />
<polygon points="1067.6,116.2 1084.1,114.6 1084.6,119.5 1067.6,121.7" fill="#8a8a92" />
<polygon points="1080.0,115.4 1087.4,114.0 1088.5,126.4 1081.3,127.8" fill="#3e3f47" />
<polygon points="1031.2,131.1 1051.1,131.1 1050.0,150.4 1044.2,153.1 1031.2,147.6" fill="#33353f" />
<polygon points="1001.5,137.4 1018.0,134.7 1048.3,149.8 1050.0,155.9 1020.8,175.1 1012.5,170.7 996.0,152.6 996.0,144.3" fill="#212228" />
<polygon points="1004.3,142.1 1017.5,138.8 1029.0,147.1 1012.5,152.6" fill="#2c2d34" />
<polygon points="996.9,152.2 1021.4,175.1 1019.7,181.4 1018.1,184.7 992.5,163.4 994.3,156.4" fill="#17181c" />
<polygon points="995.8,155.1 1021.1,176.9 1019.9,181.0 994.5,159.3" fill="#c2c2c8" />
<path d="M1015.8,120.1 C1022.0,118.0 1044.6,114.8 1051.1,115.4 C1057.5,116.0 1054.4,120.9 1054.4,123.7 C1054.4,126.5 1057.1,130.3 1051.1,132.2 C1045.0,134.1 1024.2,136.0 1018.0,135.2 C1011.8,134.5 1014.3,130.3 1013.9,127.8 C1013.5,125.3 1009.6,122.2 1015.8,120.1Z" fill="#2b2e39" />
<path d="M1018.6,121.2 C1023.7,119.7 1044.5,117.3 1050.0,117.3 C1055.5,117.4 1056.7,120.2 1051.6,121.7 C1046.5,123.3 1024.9,126.5 1019.4,126.4 C1013.9,126.3 1013.5,122.7 1018.6,121.2Z" fill="#3a3d49" />
<path d="M1095.5,105.2 C1097.0,104.3 1099.8,102.7 1102.5,102.2 C1105.2,101.8 1108.9,101.8 1111.8,102.2 C1114.7,102.6 1117.3,103.7 1120.0,104.6 C1122.6,105.4 1126.5,106.3 1127.5,107.5 C1128.6,108.6 1127.2,109.8 1126.4,111.6 C1125.5,113.3 1123.9,115.7 1122.3,118.0 C1120.6,120.2 1118.8,122.9 1116.5,125.0 C1114.1,127.0 1110.8,129.2 1108.3,130.2 C1105.8,131.2 1103.5,131.3 1101.3,130.8 C1099.2,130.3 1097.0,128.9 1095.5,127.3 C1093.9,125.7 1092.7,123.8 1092.0,121.5 C1091.3,119.1 1091.2,115.6 1091.4,113.3 C1091.6,111.0 1092.5,108.8 1093.2,107.5 C1093.8,106.1 1093.9,106.0 1095.5,105.2Z" fill="#3f4149" />
<polygon points="1096.1,105.2 1102.5,102.6 1111.8,102.6 1118.8,104.6 1114.7,107.5 1112.4,112.1 1102.5,113.3 1094.3,111.0" fill="#5a5c64" />
<polygon points="1115.1,107.5 1127.2,107.7 1126.1,111.7 1122.1,118.0 1116.5,124.7 1110.1,129.0 1113.6,121.5 1114.1,113.3" fill="#2b2c33" />
<polygon points="1114.7,103.8 1124.0,104.7 1124.6,106.3 1115.1,105.6" fill="#0f0f13" />
<polygon points="1095.7,127.5 1101.3,130.6 1104.2,131.0 1103.6,132.4 1100.2,132.2 1096.1,129.4" fill="#2222cc" />
</g>
<g id="r4">
<polygon points="1208.8,126.5 1223.6,126.5 1227.2,134.9 1225.8,148.7 1209.9,148.3" fill="#16171b" stroke="#16171b" stroke-width="1.5" stroke-linejoin="round"/>
<polygon points="1191.2,136.0 1208.8,134.9 1209.9,148.3 1192.9,148.3 1189.8,142.3" fill="#1d1e23" stroke="#16171b" stroke-width="1.5" stroke-linejoin="round"/>
<polygon points="1223.6,133.9 1231.0,131.8 1234.2,155.0 1224.7,152.9" fill="#1f2026" />
<polygon points="1230.0,128.6 1241.6,127.1 1257.5,129.6 1271.3,143.4 1272.5,149.8 1267.0,158.9 1233.2,154.6 1228.9,142.3" fill="#30323c" />
<polygon points="1241.6,127.1 1257.5,129.6 1271.3,143.4 1263.9,142.3 1254.3,133.9 1242.7,131.8" fill="#55575f" />
<polygon points="1230.0,128.6 1241.6,127.1 1242.7,132.2 1231.0,137.1" fill="#454751" />
<polygon points="1232.7,154.0 1267.0,158.4 1264.9,172.4 1235.3,169.2 1231.0,161.4" fill="#4a4b54" />
<polygon points="1243.7,158.2 1263.9,161.0 1262.8,164.6 1243.7,161.8" fill="#82838b" />
<polygon points="1232.1,154.0 1244.2,155.5 1243.3,169.9 1235.3,169.2 1231.0,161.4" fill="#2a2b31" />
<path d="M1192.9,151.9 C1199.6,150.1 1224.3,151.3 1231.0,152.9 C1237.8,154.5 1233.6,158.7 1233.6,161.4 C1233.6,164.1 1235.0,167.5 1231.0,169.0 C1227.1,170.5 1215.2,169.4 1209.9,170.3 C1204.6,171.2 1202.5,175.7 1199.3,174.5 C1196.1,173.4 1191.9,167.3 1190.8,163.5 C1189.8,159.7 1186.2,153.6 1192.9,151.9Z" fill="#2b2d38" />
<path d="M1196.1,154.0 C1201.6,153.1 1224.2,154.2 1230.0,155.0 C1235.8,155.9 1236.5,158.4 1231.0,159.3 C1225.6,160.2 1203.0,161.2 1197.2,160.3 C1191.3,159.5 1190.6,154.9 1196.1,154.0Z" fill="#383b47" />
<polygon points="1167.5,137.1 1188.7,146.6 1192.9,155.0 1199.7,174.1 1197.2,183.0 1171.8,173.5 1159.1,160.3 1161.2,147.6" fill="#24262d" />
<polygon points="1171.8,142.3 1187.6,148.3 1190.8,154.6 1167.5,152.9" fill="#34363f" />
<polygon points="1156.9,131.8 1169.6,138.1 1163.3,152.9 1174.3,173.0 1171.8,178.8 1148.0,157.2 1149.5,144.5" fill="#202127" />
<polygon points="1148.8,150.5 1175.6,173.9 1172.5,179.3 1146.4,156.6" fill="#17181c" />
<polygon points="1149.2,151.2 1175.3,174.2 1174.1,176.6 1148.1,153.9" fill="#bcbcc4" />
<path d="M1272.0,149.3 C1273.7,148.1 1275.5,147.6 1277.8,147.6 C1280.1,147.6 1283.6,148.4 1286.0,149.3 C1288.3,150.2 1289.9,151.9 1291.8,152.8 C1293.7,153.7 1295.8,153.6 1297.6,154.6 C1299.5,155.5 1302.5,157.3 1302.9,158.6 C1303.3,160.0 1301.4,161.1 1300.0,162.7 C1298.5,164.4 1296.3,166.7 1294.1,168.6 C1292.0,170.4 1289.7,172.6 1287.1,173.8 C1284.6,175.0 1281.5,175.5 1279.0,175.5 C1276.5,175.5 1274.0,174.9 1272.0,173.8 C1269.9,172.7 1267.9,171.1 1266.7,169.1 C1265.6,167.2 1264.9,164.5 1265.0,162.1 C1265.1,159.8 1266.2,157.3 1267.3,155.2 C1268.5,153.0 1270.2,150.6 1272.0,149.3Z" fill="#353740" />
<polygon points="1272.2,149.8 1277.8,147.9 1286.0,149.7 1291.6,154.6 1288.5,158.6 1277.8,160.0 1269.7,163.9 1267.9,157.5" fill="#5c5d64" />
<polygon points="1281.3,150.5 1286.6,150.3 1291.2,154.9 1288.5,158.4 1283.1,157.5" fill="#85868c" />
<polygon points="1279.0,160.0 1291.2,157.5 1302.3,158.9 1299.7,162.8 1294.1,168.4 1287.1,173.6 1279.2,175.2 1274.3,169.1" fill="#2c2d34" />
<polygon points="1291.6,151.7 1298.8,153.8 1298.2,155.4 1291.2,153.3" fill="#0f0f13" />
<polygon points="1267.6,171.7 1271.8,174.0 1274.9,175.0 1274.3,176.4 1270.8,175.7 1267.9,173.8" fill="#2222cc" />
</g>
</g>
<g clip-path="url(#cB)">
<rect x="793" y="206" width="520" height="183.9" fill="url(#bgT)"/>
<clipPath id="cb0"><rect x="793.0" y="206.0" width="93.0" height="184.0"/></clipPath>
<g clip-path="url(#cb0)">
<line x1="793.0" y1="325.39" x2="886.0" y2="325.39" stroke="#c6c6c6" stroke-width="0.7"/>
<line x1="793.0" y1="301.00" x2="886.0" y2="301.00" stroke="#3c3c3c" stroke-width="1.2"/>
<line x1="793.0" y1="284.86" x2="886.0" y2="284.86" stroke="#c6c6c6" stroke-width="0.7"/>
<line x1="793.0" y1="273.38" x2="886.0" y2="273.38" stroke="#909090" stroke-width="1.0"/>
<line x1="793.0" y1="264.81" x2="886.0" y2="264.81" stroke="#c6c6c6" stroke-width="0.7"/>
<line x1="793.0" y1="258.16" x2="886.0" y2="258.16" stroke="#a8a8a8" stroke-width="0.9"/>
<line x1="793.0" y1="252.85" x2="886.0" y2="252.85" stroke="#cecece" stroke-width="0.6"/>
<line x1="793.0" y1="248.51" x2="886.0" y2="248.51" stroke="#c9c9c9" stroke-width="0.7"/>
<line x1="793.0" y1="244.90" x2="886.0" y2="244.90" stroke="#cecece" stroke-width="0.6"/>
<line x1="793.0" y1="241.85" x2="886.0" y2="241.85" stroke="#c9c9c9" stroke-width="0.7"/>
<line x1="793.0" y1="239.24" x2="886.0" y2="239.24" stroke="#cecece" stroke-width="0.6"/>
<line x1="793.0" y1="236.98" x2="886.0" y2="236.98" stroke="#c9c9c9" stroke-width="0.7"/>
<line x1="793.0" y1="235.00" x2="886.0" y2="235.00" stroke="#cecece" stroke-width="0.6"/>
<line x1="793.0" y1="233.25" x2="886.0" y2="233.25" stroke="#c9c9c9" stroke-width="0.7"/>
<line x1="793.0" y1="231.70" x2="886.0" y2="231.70" stroke="#d2d2d2" stroke-width="0.6"/>
<line x1="793.0" y1="230.32" x2="886.0" y2="230.32" stroke="#d2d2d2" stroke-width="0.6"/>
<line x1="793.0" y1="229.07" x2="886.0" y2="229.07" stroke="#d2d2d2" stroke-width="0.6"/>
<line x1="793.0" y1="227.95" x2="886.0" y2="227.95" stroke="#d2d2d2" stroke-width="0.6"/>
<line x1="793.0" y1="226.92" x2="886.0" y2="226.92" stroke="#d2d2d2" stroke-width="0.6"/>
<line x1="793.0" y1="225.99" x2="886.0" y2="225.99" stroke="#d2d2d2" stroke-width="0.6"/>
<line x1="793.0" y1="225.13" x2="886.0" y2="225.13" stroke="#d2d2d2" stroke-width="0.6"/>
<g mask="url(#zmB)">
<line x1="841.0" y1="205.5" x2="-839.6" y2="395.0" stroke="#bcbcbc" stroke-width="0.7"/>
<line x1="841.0" y1="205.5" x2="-653.7" y2="395.0" stroke="#a8a8a8" stroke-width="0.8"/>
<line x1="841.0" y1="205.5" x2="-467.7" y2="395.0" stroke="#bcbcbc" stroke-width="0.7"/>
<line x1="841.0" y1="205.5" x2="-281.7" y2="395.0" stroke="#a8a8a8" stroke-width="0.8"/>
<line x1="841.0" y1="205.5" x2="-95.7" y2="395.0" stroke="#bcbcbc" stroke-width="0.7"/>
<line x1="841.0" y1="205.5" x2="90.2" y2="395.0" stroke="#808080" stroke-width="0.9"/>
<line x1="841.0" y1="205.5" x2="276.2" y2="395.0" stroke="#a8a8a8" stroke-width="0.8"/>
<line x1="841.0" y1="205.5" x2="462.2" y2="395.0" stroke="#1c1c1c" stroke-width="1.2"/>
<line x1="841.0" y1="205.5" x2="648.1" y2="395.0" stroke="#6e6e6e" stroke-width="0.9"/>
<line x1="841.0" y1="205.5" x2="1020.1" y2="395.0" stroke="#6e6e6e" stroke-width="0.9"/>
<line x1="841.0" y1="205.5" x2="1206.0" y2="395.0" stroke="#1c1c1c" stroke-width="1.2"/>
<line x1="841.0" y1="205.5" x2="1392.0" y2="395.0" stroke="#a8a8a8" stroke-width="0.8"/>
<line x1="841.0" y1="205.5" x2="1578.0" y2="395.0" stroke="#808080" stroke-width="0.9"/>
<line x1="841.0" y1="205.5" x2="1763.9" y2="395.0" stroke="#bcbcbc" stroke-width="0.7"/>
<line x1="841.0" y1="205.5" x2="1949.9" y2="395.0" stroke="#a8a8a8" stroke-width="0.8"/>
<line x1="841.0" y1="205.5" x2="2135.9" y2="395.0" stroke="#bcbcbc" stroke-width="0.7"/>
<line x1="841.0" y1="205.5" x2="2321.9" y2="395.0" stroke="#a8a8a8" stroke-width="0.8"/>
<line x1="841.0" y1="205.5" x2="2507.8" y2="395.0" stroke="#bcbcbc" stroke-width="0.7"/>
</g>
</g>
<clipPath id="cb1"><rect x="886.0" y="206.0" width="129.0" height="184.0"/></clipPath>
<g clip-path="url(#cb1)">
<line x1="886.0" y1="325.39" x2="1015.0" y2="325.39" stroke="#c6c6c6" stroke-width="0.7"/>
<line x1="886.0" y1="301.00" x2="1015.0" y2="301.00" stroke="#3c3c3c" stroke-width="1.2"/>
<line x1="886.0" y1="284.86" x2="1015.0" y2="284.86" stroke="#c6c6c6" stroke-width="0.7"/>
<line x1="886.0" y1="273.38" x2="1015.0" y2="273.38" stroke="#909090" stroke-width="1.0"/>
<line x1="886.0" y1="264.81" x2="1015.0" y2="264.81" stroke="#c6c6c6" stroke-width="0.7"/>
<line x1="886.0" y1="258.16" x2="1015.0" y2="258.16" stroke="#a8a8a8" stroke-width="0.9"/>
<line x1="886.0" y1="252.85" x2="1015.0" y2="252.85" stroke="#cecece" stroke-width="0.6"/>
<line x1="886.0" y1="248.51" x2="1015.0" y2="248.51" stroke="#c9c9c9" stroke-width="0.7"/>
<line x1="886.0" y1="244.90" x2="1015.0" y2="244.90" stroke="#cecece" stroke-width="0.6"/>
<line x1="886.0" y1="241.85" x2="1015.0" y2="241.85" stroke="#c9c9c9" stroke-width="0.7"/>
<line x1="886.0" y1="239.24" x2="1015.0" y2="239.24" stroke="#cecece" stroke-width="0.6"/>
<line x1="886.0" y1="236.98" x2="1015.0" y2="236.98" stroke="#c9c9c9" stroke-width="0.7"/>
<line x1="886.0" y1="235.00" x2="1015.0" y2="235.00" stroke="#cecece" stroke-width="0.6"/>
<line x1="886.0" y1="233.25" x2="1015.0" y2="233.25" stroke="#c9c9c9" stroke-width="0.7"/>
<line x1="886.0" y1="231.70" x2="1015.0" y2="231.70" stroke="#d2d2d2" stroke-width="0.6"/>
<line x1="886.0" y1="230.32" x2="1015.0" y2="230.32" stroke="#d2d2d2" stroke-width="0.6"/>
<line x1="886.0" y1="229.07" x2="1015.0" y2="229.07" stroke="#d2d2d2" stroke-width="0.6"/>
<line x1="886.0" y1="227.95" x2="1015.0" y2="227.95" stroke="#d2d2d2" stroke-width="0.6"/>
<line x1="886.0" y1="226.92" x2="1015.0" y2="226.92" stroke="#d2d2d2" stroke-width="0.6"/>
<line x1="886.0" y1="225.99" x2="1015.0" y2="225.99" stroke="#d2d2d2" stroke-width="0.6"/>
<line x1="886.0" y1="225.13" x2="1015.0" y2="225.13" stroke="#d2d2d2" stroke-width="0.6"/>
<g mask="url(#zmB)">
<line x1="939.5" y1="205.5" x2="-741.9" y2="395.0" stroke="#bcbcbc" stroke-width="0.7"/>
<line x1="939.5" y1="205.5" x2="-556.0" y2="395.0" stroke="#a8a8a8" stroke-width="0.8"/>
<line x1="939.5" y1="205.5" x2="-370.0" y2="395.0" stroke="#bcbcbc" stroke-width="0.7"/>
<line x1="939.5" y1="205.5" x2="-184.0" y2="395.0" stroke="#a8a8a8" stroke-width="0.8"/>
<line x1="939.5" y1="205.5" x2="1.9" y2="395.0" stroke="#bcbcbc" stroke-width="0.7"/>
<line x1="939.5" y1="205.5" x2="187.9" y2="395.0" stroke="#808080" stroke-width="0.9"/>
<line x1="939.5" y1="205.5" x2="373.9" y2="395.0" stroke="#a8a8a8" stroke-width="0.8"/>
<line x1="939.5" y1="205.5" x2="559.8" y2="395.0" stroke="#1c1c1c" stroke-width="1.2"/>
<line x1="939.5" y1="205.5" x2="745.8" y2="395.0" stroke="#6e6e6e" stroke-width="0.9"/>
<line x1="939.5" y1="205.5" x2="1117.7" y2="395.0" stroke="#6e6e6e" stroke-width="0.9"/>
<line x1="939.5" y1="205.5" x2="1303.7" y2="395.0" stroke="#1c1c1c" stroke-width="1.2"/>
<line x1="939.5" y1="205.5" x2="1489.7" y2="395.0" stroke="#a8a8a8" stroke-width="0.8"/>
<line x1="939.5" y1="205.5" x2="1675.7" y2="395.0" stroke="#808080" stroke-width="0.9"/>
<line x1="939.5" y1="205.5" x2="1861.6" y2="395.0" stroke="#bcbcbc" stroke-width="0.7"/>
<line x1="939.5" y1="205.5" x2="2047.6" y2="395.0" stroke="#a8a8a8" stroke-width="0.8"/>
<line x1="939.5" y1="205.5" x2="2233.6" y2="395.0" stroke="#bcbcbc" stroke-width="0.7"/>
<line x1="939.5" y1="205.5" x2="2419.5" y2="395.0" stroke="#a8a8a8" stroke-width="0.8"/>
<line x1="939.5" y1="205.5" x2="2605.5" y2="395.0" stroke="#bcbcbc" stroke-width="0.7"/>
</g>
</g>
<clipPath id="cb2"><rect x="1015.0" y="206.0" width="121.0" height="184.0"/></clipPath>
<g clip-path="url(#cb2)">
<line x1="1015.0" y1="325.39" x2="1136.0" y2="325.39" stroke="#c6c6c6" stroke-width="0.7"/>
<line x1="1015.0" y1="301.00" x2="1136.0" y2="301.00" stroke="#3c3c3c" stroke-width="1.2"/>
<line x1="1015.0" y1="284.86" x2="1136.0" y2="284.86" stroke="#c6c6c6" stroke-width="0.7"/>
<line x1="1015.0" y1="273.38" x2="1136.0" y2="273.38" stroke="#909090" stroke-width="1.0"/>
<line x1="1015.0" y1="264.81" x2="1136.0" y2="264.81" stroke="#c6c6c6" stroke-width="0.7"/>
<line x1="1015.0" y1="258.16" x2="1136.0" y2="258.16" stroke="#a8a8a8" stroke-width="0.9"/>
<line x1="1015.0" y1="252.85" x2="1136.0" y2="252.85" stroke="#cecece" stroke-width="0.6"/>
<line x1="1015.0" y1="248.51" x2="1136.0" y2="248.51" stroke="#c9c9c9" stroke-width="0.7"/>
<line x1="1015.0" y1="244.90" x2="1136.0" y2="244.90" stroke="#cecece" stroke-width="0.6"/>
<line x1="1015.0" y1="241.85" x2="1136.0" y2="241.85" stroke="#c9c9c9" stroke-width="0.7"/>
<line x1="1015.0" y1="239.24" x2="1136.0" y2="239.24" stroke="#cecece" stroke-width="0.6"/>
<line x1="1015.0" y1="236.98" x2="1136.0" y2="236.98" stroke="#c9c9c9" stroke-width="0.7"/>
<line x1="1015.0" y1="235.00" x2="1136.0" y2="235.00" stroke="#cecece" stroke-width="0.6"/>
<line x1="1015.0" y1="233.25" x2="1136.0" y2="233.25" stroke="#c9c9c9" stroke-width="0.7"/>
<line x1="1015.0" y1="231.70" x2="1136.0" y2="231.70" stroke="#d2d2d2" stroke-width="0.6"/>
<line x1="1015.0" y1="230.32" x2="1136.0" y2="230.32" stroke="#d2d2d2" stroke-width="0.6"/>
<line x1="1015.0" y1="229.07" x2="1136.0" y2="229.07" stroke="#d2d2d2" stroke-width="0.6"/>
<line x1="1015.0" y1="227.95" x2="1136.0" y2="227.95" stroke="#d2d2d2" stroke-width="0.6"/>
<line x1="1015.0" y1="226.92" x2="1136.0" y2="226.92" stroke="#d2d2d2" stroke-width="0.6"/>
<line x1="1015.0" y1="225.99" x2="1136.0" y2="225.99" stroke="#d2d2d2" stroke-width="0.6"/>
<line x1="1015.0" y1="225.13" x2="1136.0" y2="225.13" stroke="#d2d2d2" stroke-width="0.6"/>
<g mask="url(#zmB)">
<line x1="1065.1" y1="205.5" x2="-617.4" y2="395.0" stroke="#bcbcbc" stroke-width="0.7"/>
<line x1="1065.1" y1="205.5" x2="-431.4" y2="395.0" stroke="#a8a8a8" stroke-width="0.8"/>
<line x1="1065.1" y1="205.5" x2="-245.4" y2="395.0" stroke="#bcbcbc" stroke-width="0.7"/>
<line x1="1065.1" y1="205.5" x2="-59.5" y2="395.0" stroke="#a8a8a8" stroke-width="0.8"/>
<line x1="1065.1" y1="205.5" x2="126.5" y2="395.0" stroke="#bcbcbc" stroke-width="0.7"/>
<line x1="1065.1" y1="205.5" x2="312.5" y2="395.0" stroke="#808080" stroke-width="0.9"/>
<line x1="1065.1" y1="205.5" x2="498.4" y2="395.0" stroke="#a8a8a8" stroke-width="0.8"/>
<line x1="1065.1" y1="205.5" x2="684.4" y2="395.0" stroke="#1c1c1c" stroke-width="1.2"/>
<line x1="1065.1" y1="205.5" x2="870.4" y2="395.0" stroke="#6e6e6e" stroke-width="0.9"/>
<line x1="1065.1" y1="205.5" x2="1242.3" y2="395.0" stroke="#6e6e6e" stroke-width="0.9"/>
<line x1="1065.1" y1="205.5" x2="1428.3" y2="395.0" stroke="#1c1c1c" stroke-width="1.2"/>
<line x1="1065.1" y1="205.5" x2="1614.3" y2="395.0" stroke="#a8a8a8" stroke-width="0.8"/>
<line x1="1065.1" y1="205.5" x2="1800.2" y2="395.0" stroke="#808080" stroke-width="0.9"/>
<line x1="1065.1" y1="205.5" x2="1986.2" y2="395.0" stroke="#bcbcbc" stroke-width="0.7"/>
<line x1="1065.1" y1="205.5" x2="2172.2" y2="395.0" stroke="#a8a8a8" stroke-width="0.8"/>
<line x1="1065.1" y1="205.5" x2="2358.1" y2="395.0" stroke="#bcbcbc" stroke-width="0.7"/>
<line x1="1065.1" y1="205.5" x2="2544.1" y2="395.0" stroke="#a8a8a8" stroke-width="0.8"/>
<line x1="1065.1" y1="205.5" x2="2730.1" y2="395.0" stroke="#bcbcbc" stroke-width="0.7"/>
</g>
</g>
<clipPath id="cb3"><rect x="1136.0" y="206.0" width="177.0" height="184.0"/></clipPath>
<g clip-path="url(#cb3)">
<line x1="1136.0" y1="325.39" x2="1313.0" y2="325.39" stroke="#c6c6c6" stroke-width="0.7"/>
<line x1="1136.0" y1="301.00" x2="1313.0" y2="301.00" stroke="#3c3c3c" stroke-width="1.2"/>
<line x1="1136.0" y1="284.86" x2="1313.0" y2="284.86" stroke="#c6c6c6" stroke-width="0.7"/>
<line x1="1136.0" y1="273.38" x2="1313.0" y2="273.38" stroke="#909090" stroke-width="1.0"/>
<line x1="1136.0" y1="264.81" x2="1313.0" y2="264.81" stroke="#c6c6c6" stroke-width="0.7"/>
<line x1="1136.0" y1="258.16" x2="1313.0" y2="258.16" stroke="#a8a8a8" stroke-width="0.9"/>
<line x1="1136.0" y1="252.85" x2="1313.0" y2="252.85" stroke="#cecece" stroke-width="0.6"/>
<line x1="1136.0" y1="248.51" x2="1313.0" y2="248.51" stroke="#c9c9c9" stroke-width="0.7"/>
<line x1="1136.0" y1="244.90" x2="1313.0" y2="244.90" stroke="#cecece" stroke-width="0.6"/>
<line x1="1136.0" y1="241.85" x2="1313.0" y2="241.85" stroke="#c9c9c9" stroke-width="0.7"/>
<line x1="1136.0" y1="239.24" x2="1313.0" y2="239.24" stroke="#cecece" stroke-width="0.6"/>
<line x1="1136.0" y1="236.98" x2="1313.0" y2="236.98" stroke="#c9c9c9" stroke-width="0.7"/>
<line x1="1136.0" y1="235.00" x2="1313.0" y2="235.00" stroke="#cecece" stroke-width="0.6"/>
<line x1="1136.0" y1="233.25" x2="1313.0" y2="233.25" stroke="#c9c9c9" stroke-width="0.7"/>
<line x1="1136.0" y1="231.70" x2="1313.0" y2="231.70" stroke="#d2d2d2" stroke-width="0.6"/>
<line x1="1136.0" y1="230.32" x2="1313.0" y2="230.32" stroke="#d2d2d2" stroke-width="0.6"/>
<line x1="1136.0" y1="229.07" x2="1313.0" y2="229.07" stroke="#d2d2d2" stroke-width="0.6"/>
<line x1="1136.0" y1="227.95" x2="1313.0" y2="227.95" stroke="#d2d2d2" stroke-width="0.6"/>
<line x1="1136.0" y1="226.92" x2="1313.0" y2="226.92" stroke="#d2d2d2" stroke-width="0.6"/>
<line x1="1136.0" y1="225.99" x2="1313.0" y2="225.99" stroke="#d2d2d2" stroke-width="0.6"/>
<line x1="1136.0" y1="225.13" x2="1313.0" y2="225.13" stroke="#d2d2d2" stroke-width="0.6"/>
<g mask="url(#zmB)">
<line x1="1227.2" y1="205.5" x2="-454.1" y2="395.0" stroke="#bcbcbc" stroke-width="0.7"/>
<line x1="1227.2" y1="205.5" x2="-268.2" y2="395.0" stroke="#a8a8a8" stroke-width="0.8"/>
<line x1="1227.2" y1="205.5" x2="-82.2" y2="395.0" stroke="#bcbcbc" stroke-width="0.7"/>
<line x1="1227.2" y1="205.5" x2="103.8" y2="395.0" stroke="#a8a8a8" stroke-width="0.8"/>
<line x1="1227.2" y1="205.5" x2="289.7" y2="395.0" stroke="#bcbcbc" stroke-width="0.7"/>
<line x1="1227.2" y1="205.5" x2="475.7" y2="395.0" stroke="#808080" stroke-width="0.9"/>
<line x1="1227.2" y1="205.5" x2="661.7" y2="395.0" stroke="#a8a8a8" stroke-width="0.8"/>
<line x1="1227.2" y1="205.5" x2="847.6" y2="395.0" stroke="#1c1c1c" stroke-width="1.2"/>
<line x1="1227.2" y1="205.5" x2="1033.6" y2="395.0" stroke="#6e6e6e" stroke-width="0.9"/>
<line x1="1227.2" y1="205.5" x2="1405.5" y2="395.0" stroke="#6e6e6e" stroke-width="0.9"/>
<line x1="1227.2" y1="205.5" x2="1591.5" y2="395.0" stroke="#1c1c1c" stroke-width="1.2"/>
<line x1="1227.2" y1="205.5" x2="1777.5" y2="395.0" stroke="#a8a8a8" stroke-width="0.8"/>
<line x1="1227.2" y1="205.5" x2="1963.5" y2="395.0" stroke="#808080" stroke-width="0.9"/>
<line x1="1227.2" y1="205.5" x2="2149.4" y2="395.0" stroke="#bcbcbc" stroke-width="0.7"/>
<line x1="1227.2" y1="205.5" x2="2335.4" y2="395.0" stroke="#a8a8a8" stroke-width="0.8"/>
<line x1="1227.2" y1="205.5" x2="2521.4" y2="395.0" stroke="#bcbcbc" stroke-width="0.7"/>
<line x1="1227.2" y1="205.5" x2="2707.3" y2="395.0" stroke="#a8a8a8" stroke-width="0.8"/>
<line x1="1227.2" y1="205.5" x2="2893.3" y2="395.0" stroke="#bcbcbc" stroke-width="0.7"/>
</g>
</g>
<rect x="793" y="206.0" width="520" height="30" fill="url(#fog)"/>
<line x1="793" y1="366.3" x2="1313" y2="366.3" stroke="#0d0d0d" stroke-width="1.7"/>
<g clip-path="url(#cb0)"><polygon points="836.2,305.5 838.6,305.5 836.5,389.5 832.1,389.5" fill="url(#axfadeB)"/></g>
<g clip-path="url(#cb1)"><polygon points="938.8,213.5 939.5,213.5 934.2,389.5 929.8,389.5" fill="url(#axfadeB)"/></g>
<g clip-path="url(#cb2)"><polygon points="1064.4,213.5 1065.1,213.5 1058.8,389.5 1054.4,389.5" fill="url(#axfadeB)"/></g>
<g clip-path="url(#cb3)"><polygon points="1226.5,213.5 1227.2,213.5 1222.0,389.5 1217.6,389.5" fill="url(#axfadeB)"/></g>
<use href="#r1legs" transform="translate(0.0,190.3)"/>
<use href="#r1foot" transform="translate(0.0,190.3)"/>
<use href="#r1torso" transform="translate(-1.0,190.3)"/>
<use href="#r1head" transform="translate(-2.0,190.3)"/>
<use href="#r1legs" transform="translate(384.3,191)"/>
<use href="#r1foot" transform="translate(387.0,191)"/>
<use href="#r1torso" transform="translate(382.0,191)"/>
<use href="#r1head" transform="translate(379.3,191)"/>
<g id="r5">
<polygon points="916.3,290.0 928.2,284.1 934.4,288.6 935.6,304.0 920.8,308.1 914.8,298.9" fill="#16171b" stroke="#16171b" stroke-width="1.5" stroke-linejoin="round"/>
<polygon points="928.2,304.9 954.9,307.8 959.3,324.2 941.5,337.5 929.1,338.4 920.8,330.1" fill="#23252d" />
<polygon points="937.1,322.7 947.5,312.9 959.3,324.2 962.9,334.5 953.4,339.6 940.9,336.6" fill="#33353f" />
<polygon points="952.8,322.7 958.7,324.8 961.7,333.7 956.4,335.4" fill="#8a8a92" />
<polygon points="941.5,270.8 956.4,261.9 965.3,261.3 971.2,270.8 975.9,279.7 974.2,289.2 965.3,302.5 954.9,308.4 938.6,302.5 932.6,288.6 934.1,278.2" fill="#343846" />
<polygon points="941.5,270.8 956.4,261.9 965.3,261.3 968.8,267.2 957.8,268.4 944.5,277.3 935.0,279.7" fill="#4e5261" />
<polygon points="960.8,281.1 974.2,279.7 975.9,290.0 967.0,302.2 957.8,299.2" fill="#5d5e67" />
<polygon points="963.8,285.0 970.6,284.1 970.0,291.5 963.5,292.1" fill="#a4a4ac" />
<polygon points="929.7,337.5 960.8,331.6 962.9,339.0 949.2,360.4 929.7,364.5 926.7,347.9" fill="#2c2e37" />
<polygon points="917.8,337.5 929.7,336.0 929.7,363.3 916.3,364.5" fill="#16171b" stroke="#16171b" stroke-width="1.5" stroke-linejoin="round"/>
<polygon points="915.6,355.9 944.2,356.9 949.0,356.4 950.3,371.8 949.5,374.5 916.1,369.9 915.6,366.0" fill="#1b1c21" />
<polygon points="916.1,360.7 929.4,362.8 945.3,364.9 949.7,366.5 950.1,371.8 945.3,370.2 929.4,368.1 916.1,366.0" fill="#b8b8be" />
<polygon points="944.4,357.2 948.9,356.6 949.9,367.8 945.3,366.0" fill="#a4a4aa" />
<path d="M917.8,313.8 C922.7,311.3 936.3,304.4 941.5,303.4 C946.7,302.4 948.0,305.6 948.9,307.8 C949.9,310.1 950.7,313.3 947.5,316.7 C944.2,320.2 934.9,325.9 929.7,328.6 C924.5,331.3 919.5,333.6 916.3,333.1 C913.1,332.6 911.1,328.1 910.4,325.6 C909.6,323.2 910.6,320.2 911.9,318.2 C913.1,316.3 912.9,316.3 917.8,313.8Z" fill="#2b2e39" />
<path d="M920.2,315.9 C923.1,313.4 937.4,307.5 941.5,306.4 C945.7,305.3 948.1,306.9 945.1,309.3 C942.1,311.8 927.9,320.1 923.7,321.2 C919.6,322.3 917.2,318.3 920.2,315.9Z" fill="#383b47" />
<path d="M1001.1,250.2 C1002.5,250.8 1002.9,253.3 1003.5,255.5 C1004.0,257.7 1004.5,260.9 1004.6,263.6 C1004.7,266.4 1004.6,269.3 1004.0,271.8 C1003.5,274.3 1002.4,276.8 1001.1,278.8 C999.9,280.8 998.2,282.8 996.5,284.0 C994.7,285.3 992.6,286.2 990.6,286.4 C988.7,286.6 986.8,286.1 984.8,285.2 C982.9,284.3 980.4,282.8 979.0,281.1 C977.5,279.5 976.7,277.4 976.1,275.3 C975.5,273.2 975.2,270.4 975.5,268.3 C975.8,266.2 976.7,264.2 977.8,262.5 C979.0,260.7 980.5,259.1 982.5,257.8 C984.4,256.6 987.3,255.9 989.5,254.9 C991.6,253.9 993.4,252.8 995.3,252.0 C997.2,251.2 999.8,249.7 1001.1,250.2Z" fill="#4d4f58" />
<polygon points="982.5,258.1 978.1,262.7 975.7,268.3 976.3,275.1 979.2,280.9 984.8,284.9 982.5,278.8 981.9,271.8 984.2,264.8 990.1,259.0 989.5,255.3" fill="#3c3f4b" />
<polygon points="995.5,252.2 1001.1,250.5 1003.3,255.5 1004.4,263.6 1003.8,271.8 1001.0,278.6 997.1,283.2 999.4,275.3 1000.0,267.1 998.2,259.0" fill="#5b5c63" />
<polygon points="992.4,253.4 1000.9,250.1 1001.6,251.5 993.6,255.0" fill="#1d1e23" />
<polygon points="985.7,285.3 990.9,286.3 996.2,283.9 995.5,285.6 990.9,287.4 986.2,286.7" fill="#2222cc" />
</g>
<g id="r6">
<polygon points="1048.8,294.3 1060.6,292.6 1064.0,311.2 1053.9,316.7 1046.4,309.6" fill="#16171b" stroke="#16171b" stroke-width="1.5" stroke-linejoin="round"/>
<polygon points="1057.9,294.3 1087.7,300.4 1085.0,318.7 1077.5,333.2 1055.5,333.2 1054.5,317.3" fill="#25272f" />
<polygon points="1074.2,311.2 1082.6,316.3 1091.1,336.6 1092.1,345.1 1086.0,349.2 1070.8,331.6" fill="#3a3c46" />
<polygon points="1081.6,318.7 1085.0,319.7 1091.1,337.7 1087.7,339.0" fill="#85858d" />
<polygon points="1055.5,321.4 1070.8,308.5 1076.9,331.6 1074.8,340.0 1055.5,342.4" fill="#30323b" />
<polygon points="1064.0,263.9 1072.5,256.4 1082.6,260.5 1092.8,270.6 1095.5,280.8 1093.1,294.3 1086.0,303.1 1070.8,306.8 1058.9,296.0 1057.2,280.8" fill="#323643" />
<polygon points="1064.0,263.9 1072.5,256.4 1082.6,260.5 1089.4,267.2 1080.9,267.9 1073.5,263.2 1066.7,269.9" fill="#555862" />
<polygon points="1080.9,275.7 1094.5,275.7 1095.2,284.2 1092.8,296.0 1086.4,301.8 1080.3,297.7" fill="#4a4c56" />
<polygon points="1083.0,280.8 1090.4,280.1 1090.4,286.9 1083.0,287.5" fill="#8a8a92" />
<polygon points="1052.2,341.7 1089.4,339.3 1092.1,346.8 1074.2,360.7 1052.2,362.4" fill="#2c2e37" />
<polygon points="1040.3,338.3 1053.9,337.7 1053.9,360.7 1039.6,361.7" fill="#16171b" stroke="#16171b" stroke-width="1.5" stroke-linejoin="round"/>
<polygon points="1040.1,358.0 1070.8,360.1 1073.4,359.6 1073.8,371.8 1072.9,374.5 1040.1,371.4" fill="#1b1c21" />
<polygon points="1040.9,362.8 1056.5,364.9 1072.4,366.5 1073.5,371.8 1070.3,371.2 1056.5,369.4 1040.5,368.1" fill="#b8b8be" />
<polygon points="1070.9,360.3 1073.3,359.8 1073.5,367.8 1071.1,366.5" fill="#a4a4aa" />
<ellipse cx="1057.8" cy="365.2" rx="1.2" ry="1.0" fill="#30c050" transform="rotate(0 1057.8 365.2)"/>
<polygon points="1088.7,263.2 1096.5,265.2 1095.8,269.9 1088.7,267.9" fill="#46474f" />
<path d="M1098.9,229.1 C1100.1,229.7 1102.4,233.1 1104.1,235.5 C1105.9,237.9 1107.9,240.9 1109.4,243.6 C1110.8,246.4 1112.1,249.3 1112.9,251.8 C1113.7,254.3 1114.3,256.8 1114.0,258.8 C1113.8,260.8 1112.5,262.6 1111.1,264.0 C1109.8,265.5 1107.7,266.9 1105.9,267.5 C1104.0,268.2 1102.1,268.5 1100.1,268.1 C1098.0,267.7 1095.6,266.6 1093.6,265.2 C1091.7,263.9 1089.8,262.0 1088.4,260.0 C1087.0,257.9 1085.9,255.3 1085.5,253.0 C1085.1,250.6 1085.5,247.9 1086.1,246.0 C1086.7,244.0 1087.7,242.7 1089.0,241.3 C1090.2,240.0 1092.3,239.4 1093.6,237.8 C1095.0,236.3 1096.3,233.4 1097.1,232.0 C1098.0,230.5 1097.7,228.5 1098.9,229.1Z" fill="#2e303a" />
<polygon points="1099.0,229.7 1103.0,242.5 1106.7,255.3 1107.9,263.5 1105.5,267.2 1100.1,267.7 1096.0,264.6 1095.4,255.3 1096.6,243.6 1097.7,234.3" fill="#474952" />
<polygon points="1099.0,229.4 1104.1,235.7 1109.3,243.6 1112.6,251.8 1113.8,258.8 1111.1,263.7 1108.1,265.2 1107.9,262.3 1106.5,254.7 1103.0,242.5" fill="#74757c" />
<polygon points="1100.1,232.0 1104.1,236.1 1108.8,243.6 1111.4,250.1 1108.8,248.3 1105.1,241.3" fill="#909198" />
<polygon points="1103.6,267.2 1108.8,265.3 1111.8,262.5 1111.6,264.2 1108.6,266.7 1104.1,268.4" fill="#2222cc" />
</g>
</g>
<!-- arrows -->
<path d="M728.9,125.9 H775.1 V120.6 L796.7,130.3 L775.1,140.7 V134.7 H728.9 Z" fill="#000"/>
<path d="M725.9,220.9 H773 V215.6 L794.6,225.3 L773,235.7 V229.7 H725.9 Z" fill="#000"/>
</svg>
</body></html>
